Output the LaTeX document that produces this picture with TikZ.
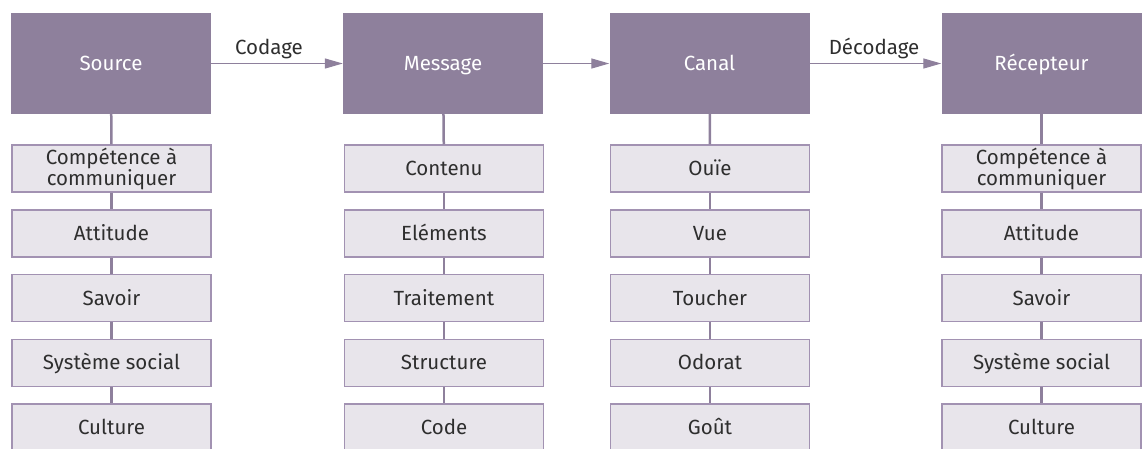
\documentclass[tikz,border=0pt]{standalone}
\usepackage{fontspec}
\setmainfont{Fira Sans}
\usetikzlibrary{arrows.meta}
\definecolor{mauve}{HTML}{8E809C}
\definecolor{lilas}{HTML}{E8E5EB}
\definecolor{lilasline}{HTML}{A292B2}
\definecolor{encre}{HTML}{2E2E2E}
\begin{document}
\begin{tikzpicture}[x=1pt,y=-1pt,
  font=\fontsize{20.5}{20}\selectfont,
  etape/.style={fill=mauve, text=white, minimum width=200pt, minimum height=101pt, inner sep=0pt, text height=14pt, text depth=0pt},
  facteur/.style={fill=lilas, draw=lilasline, line width=1.5pt, text=encre, minimum width=199pt, minimum height=47pt, inner sep=0pt, align=center, text height=#1, text depth=0pt},
  facteur/.default=14pt,
  lien/.style={draw=mauve, line width=2.5pt},
  fleche/.style={draw=mauve, line width=1.3pt, -{Triangle[length=18pt,width=10pt]}},
  etiq/.style={text=encre, inner sep=0pt, text height=14pt, text depth=0pt}]
\useasboundingbox (0,0) rectangle (1142,448);
\clip (0,0) rectangle (1142,448);

% the four stages
\node[etape] (src) at (111,63.5) {Source};
\node[etape] (msg) at (443,63.5) {Message};
\node[etape] (can) at (709.5,63.5) {Canal};
\node[etape] (rec) at (1041.5,63.5) {Récepteur};

\draw[fleche] (src) -- (msg);
\draw[fleche] (msg) -- (can);
\draw[fleche] (can) -- (rec);
\node[etiq] (cod) at (269,47) {Codage};
\node[etiq] (dec) at (874,47) {Décodage};

% factors under each stage
\foreach \t/\h [count=\k] in {{Compétence à\\communiquer}/34pt,Attitude/14pt,Savoir/14pt,Système social/14pt,Culture/14pt}
  \node[facteur=\h] (src-\k) at (111.5,168.5+64.75*\k-64.75) {\t};
\foreach \t [count=\k] in {Contenu,Eléments,Traitement,Structure,Code}
  \node[facteur] (msg-\k) at (444,168.5+64.75*\k-64.75) {\t};
\foreach \t [count=\k] in {Ouïe,Vue,Toucher,Odorat,Goût}
  \node[facteur] (can-\k) at (710,168.5+64.75*\k-64.75) {\t};
\foreach \t/\h [count=\k] in {{Compétence à\\communiquer}/34pt,Attitude/14pt,Savoir/14pt,Système social/14pt,Culture/14pt}
  \node[facteur=\h] (rec-\k) at (1041.5,168.5+64.75*\k-64.75) {\t};

% links
\foreach \c in {src,msg,can,rec} {
  \draw[lien] (\c) -- (\c-1);
  \foreach \k in {1,...,4} {
    \pgfmathtruncatemacro\n{\k+1}
    \draw[lien] (\c-\k) -- (\c-\n);
  }
}
\end{tikzpicture}
\end{document}
